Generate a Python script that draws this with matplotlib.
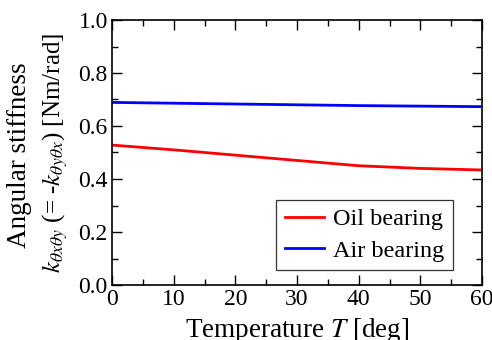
import matplotlib
matplotlib.use('Agg')
import matplotlib.pyplot as plt
from matplotlib.ticker import MultipleLocator, FormatStrFormatter

plt.rcParams['font.family'] = 'Liberation Serif'
plt.rcParams['mathtext.fontset'] = 'stix'

# data
temperature = [0, 10, 20, 30, 40, 50, 60]
oil_stiffness = [0.528, 0.510, 0.490, 0.470, 0.450, 0.440, 0.434]
air_stiffness = [0.689, 0.686, 0.683, 0.680, 0.677, 0.675, 0.673]

fig = plt.figure(figsize=(4.92, 3.40), dpi=100)
ax = fig.add_axes([112 / 492, 55 / 340, 370 / 492, 265 / 340])

ax.plot(temperature, oil_stiffness, color='#ff0000', lw=2, label='Oil bearing')
ax.plot(temperature, air_stiffness, color='#0000ff', lw=2, label='Air bearing')

ax.set_xlim(0, 60)
ax.set_ylim(0, 1.0)
ax.xaxis.set_major_locator(MultipleLocator(10))
ax.xaxis.set_minor_locator(MultipleLocator(5))
ax.yaxis.set_major_locator(MultipleLocator(0.2))
ax.yaxis.set_minor_locator(MultipleLocator(0.1))
ax.yaxis.set_major_formatter(FormatStrFormatter('%.1f'))
for s in ax.spines.values():
    s.set_linewidth(1.2)
ax.tick_params(which='both', direction='in', top=True, right=True, labelsize=17, width=1.0)
ax.tick_params(which='major', length=7, pad=3)
ax.tick_params(which='minor', length=4)

ax.set_xlabel('Temperature $T$ [deg]', fontsize=19.5, labelpad=4)

# y label in two lines, the first one slightly bigger
fig.text(20 / 492, 1 - 155 / 340, 'Angular stiffness', rotation=90,
         ha='center', va='center', fontsize=19.5)
fig.text(55 / 492, 1 - 153 / 340,
         '$k_{\\theta x \\theta y}$ (= -$k_{\\theta y \\theta x}$) [Nm/rad]',
         rotation=90, ha='center', va='center', fontsize=18)

leg = ax.legend(loc='lower right', fontsize=17.5, frameon=True, fancybox=False,
                edgecolor='black', handlelength=1.6, handletextpad=0.4,
                borderpad=0.35, labelspacing=0.38, bbox_to_anchor=(0.955, 0.01))
leg.get_frame().set_linewidth(0.9)

fig.savefig('out.png', dpi=100)
